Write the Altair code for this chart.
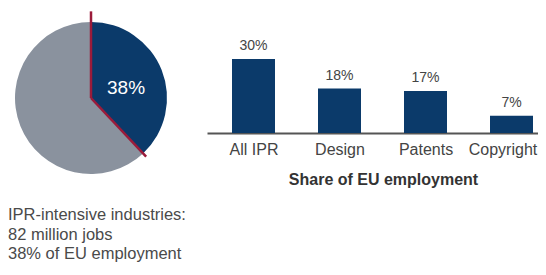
import altair as alt
import pandas as pd
import json

# ---- data ----
pie_labels = ["IPR-intensive", "Other"]
pie_shares = [0.38, 0.62]
pie_text = "38%"

bar_categories = ["All IPR", "Design", "Patents", "Copyright"]
bar_values = [30, 18, 17, 7]
bar_labels = ["30%", "18%", "17%", "7%"]

note_lines = ["IPR-intensive industries:", "82 million jobs", "38% of EU employment"]

NAVY = "#0B3A6A"
GRAY = "#8A929E"
RED = "#9B1B3A"
FONT = "Liberation Sans"

# ---- left panel: pie ----
PW, PH = 180, 255
R = 76.0
cx_px, cy_px = 83.0, 90.0
xdom = [-cx_px / R, (PW - cx_px) / R]
ydom = [(cy_px - PH) / R, cy_px / R]
xs = alt.Scale(domain=xdom, nice=False, zero=False)
ys = alt.Scale(domain=ydom, nice=False, zero=False)

pie_df = pd.DataFrame({"label": pie_labels, "share": pie_shares, "order": [0, 1]})

arcs = alt.Chart(pie_df).mark_arc(radius=R).encode(
    theta=alt.Theta("share:Q", stack=True),
    order=alt.Order("order:Q"),
    color=alt.Color("label:N", scale=alt.Scale(domain=pie_labels, range=[NAVY, GRAY]), legend=None),
    x=alt.X("cx:Q", scale=xs, axis=None),
    y=alt.Y("cy:Q", scale=ys, axis=None),
).transform_calculate(cx="0", cy="0")

ipr_share = pie_shares[0]
rule_df = pd.DataFrame({
    "seg": ["top", "edge"],
    "share": [0.0, ipr_share],
    "ext": [1.14, 1.06],
})
rules = alt.Chart(rule_df).transform_calculate(
    x0="0", y0="0",
    x1="datum.ext * sin(2 * PI * datum.share)",
    y1="datum.ext * cos(2 * PI * datum.share)",
).mark_rule(color=RED, strokeWidth=2.5).encode(
    x=alt.X("x0:Q", scale=xs, axis=None),
    y=alt.Y("y0:Q", scale=ys, axis=None),
    x2="x1:Q",
    y2="y1:Q",
)

lab_df = pd.DataFrame({"share": [ipr_share], "text": [pie_text]})
pie_label = alt.Chart(lab_df).transform_calculate(
    lx="0.48 * sin(PI * datum.share * 1.08)",
    ly="0.48 * cos(PI * datum.share * 1.08)",
).mark_text(font=FONT, fontSize=19, color="white", baseline="middle", align="center").encode(
    x=alt.X("lx:Q", scale=xs, axis=None),
    y=alt.Y("ly:Q", scale=ys, axis=None),
    text="text:N",
)

note_df = pd.DataFrame({"line": note_lines, "i": [0, 1, 2]})
notes = alt.Chart(note_df).transform_calculate(
    nx=str(xdom[0]),
    ny=f"{(cy_px - 212) / R} - datum.i * {19.5 / R}",
).mark_text(font=FONT, fontSize=16.5, color="#4a4a4a", align="left", baseline="alphabetic").encode(
    x=alt.X("nx:Q", scale=xs, axis=None),
    y=alt.Y("ny:Q", scale=ys, axis=None),
    text="line:N",
)

left = alt.layer(arcs, rules, pie_label, notes).properties(width=PW, height=PH)

# ---- right panel: bars ----
bar_df = pd.DataFrame({
    "cat": bar_categories, "val": bar_values, "lab": bar_labels,
    "i": list(range(len(bar_categories))),
})
BW, BH = 331, 125
STEP = 86.0
first_center = 46.5
xmin = -first_center / STEP
xmax = xmin + BW / STEP
label_expr = f"{json.dumps(bar_categories)}[datum.value]"

xscale = alt.Scale(domain=[xmin, xmax], nice=False, zero=False)
xaxis = alt.Axis(
    title="Share of EU employment", values=list(range(len(bar_categories))),
    labelExpr=label_expr, labelAngle=0, ticks=False, grid=False,
    domainColor="#555555", domainWidth=2,
    labelFont=FONT, labelFontSize=16, labelColor="#444444", labelPadding=8,
    labelOffset={"condition": {"test": "datum.value == 3", "value": -9}, "value": 0},
    labelFlush=False, labelOverlap=False,
    titleFont=FONT, titleFontSize=16, titleFontWeight="bold", titleColor="#333333",
    titlePadding=14, titleX=176, titleAnchor="middle",
)
yscale = alt.Scale(domain=[0, BH / 2.467], nice=False)
yb = alt.Y("val:Q", scale=yscale, axis=None)

bars = alt.Chart(bar_df).transform_calculate(
    x0="datum.i - 0.25", x1="datum.i + 0.25"
).mark_rect(color=NAVY).encode(
    x=alt.X("x0:Q", scale=xscale, axis=xaxis),
    x2="x1:Q",
    y=yb,
    y2=alt.datum(0),
)
bar_text = alt.Chart(bar_df).mark_text(
    font=FONT, fontSize=14, color="#444444", baseline="alphabetic", dy=-9
).encode(x=alt.X("i:Q", scale=xscale), y=yb, text="lab:N")

right = alt.layer(bars, bar_text).properties(width=BW, height=BH)

chart = alt.hconcat(left, right, spacing=19).properties(
    padding=0
).configure_view(stroke=None)

chart.save("out.html", embed_options={"renderer": "svg", "actions": False})
